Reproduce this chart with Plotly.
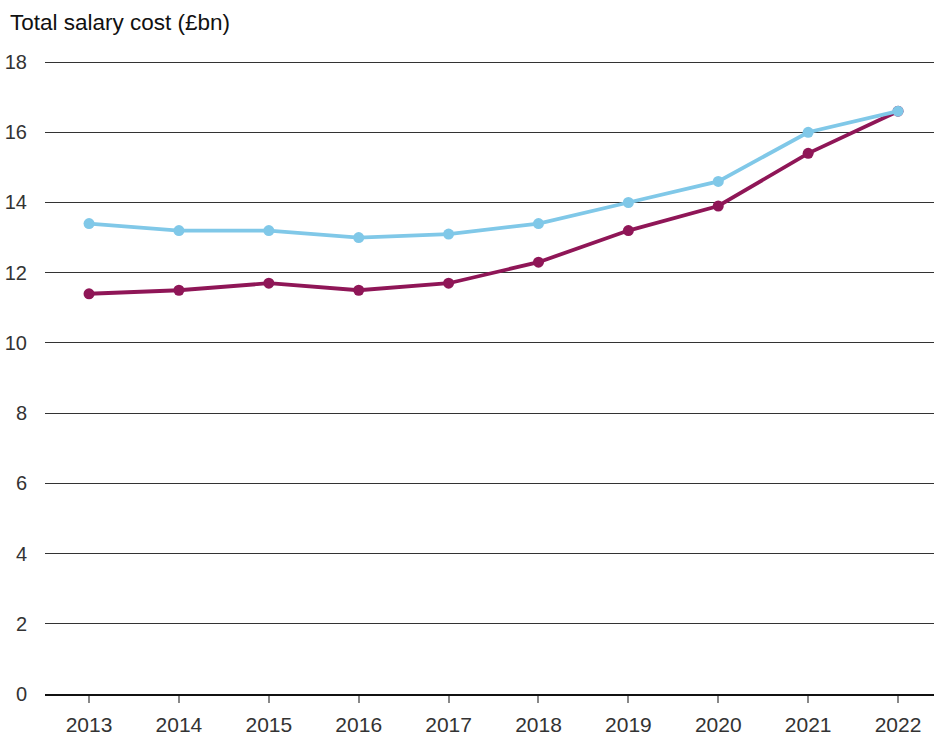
import plotly.graph_objects as go

years = ["2013", "2014", "2015", "2016", "2017", "2018", "2019", "2020", "2021", "2022"]
series_purple = [11.4, 11.5, 11.7, 11.5, 11.7, 12.3, 13.2, 13.9, 15.4, 16.6]
series_blue = [13.4, 13.2, 13.2, 13.0, 13.1, 13.4, 14.0, 14.6, 16.0, 16.6]
y_ticks = [0, 2, 4, 6, 8, 10, 12, 14, 16, 18]

PURPLE = "#8F1657"
BLUE = "#80C8E8"
FONT = "Liberation Sans"

fig = go.Figure()
fig.add_trace(go.Scatter(
    x=list(range(len(years))), y=series_purple, mode="lines+markers",
    line=dict(color=PURPLE, width=3.8), marker=dict(color=PURPLE, size=11),
    showlegend=False, cliponaxis=False,
))
fig.add_trace(go.Scatter(
    x=list(range(len(years))), y=series_blue, mode="lines+markers",
    line=dict(color=BLUE, width=3.8), marker=dict(color=BLUE, size=11),
    showlegend=False, cliponaxis=False,
))

fig.update_layout(
    width=934, height=735,
    margin=dict(l=45, r=0, t=61, b=41, autoexpand=False),
    paper_bgcolor="white", plot_bgcolor="white",
    font=dict(family=FONT, size=20, color="#333333"),
    title=dict(text="Total salary cost (£bn)", x=10/934, xref="container", xanchor="left",
               y=1-22/735, yref="container", yanchor="middle",
               font=dict(family=FONT, size=22.5, color="#111111")),
    xaxis=dict(
        tickmode="array", tickvals=list(range(len(years))), ticktext=years,
        range=[-0.49, 9.4], showgrid=False, zeroline=False,
        showline=True, linecolor="#111111", linewidth=1.5,
        ticks="outside", ticklen=7, tickwidth=1.5, tickcolor="#888888",
        ticklabelstandoff=4,
        tickfont=dict(size=21, color="#333333", family=FONT),
        automargin=False,
    ),
    yaxis=dict(
        range=[0, 18.03], tickmode="array", tickvals=y_ticks,
        showgrid=True, gridcolor="#333333", gridwidth=1,
        zeroline=False, showline=False, ticks="",
        ticklabelstandoff=17,
        tickfont=dict(size=20, color="#333333", family=FONT),
        automargin=False,
    ),
)

fig.write_html(
    "out.html",
    config={"displayModeBar": False},
    post_script="document.body.style.margin='0';document.body.style.overflow='hidden';",
)
